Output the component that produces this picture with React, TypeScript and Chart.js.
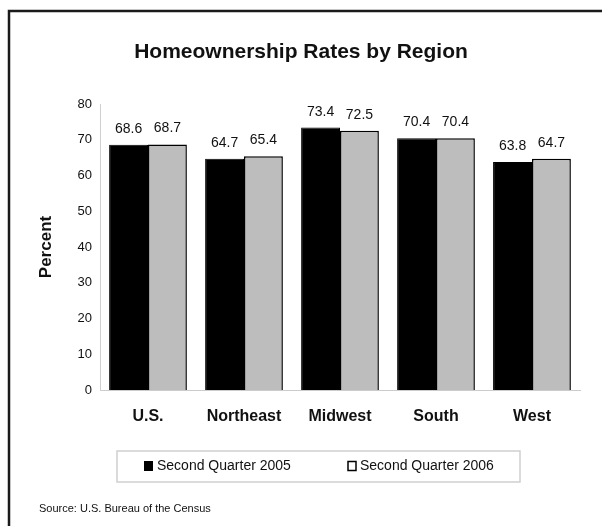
import React, { useEffect, useRef } from "react";
import { Chart, registerables } from "chart.js";

Chart.register(...registerables);

const categories = ["U.S.", "Northeast", "Midwest", "South", "West"];
const q2005 = [68.6, 64.7, 73.4, 70.4, 63.8];
const q2006 = [68.7, 65.4, 72.5, 70.4, 64.7];
const seriesLabels = ["Second Quarter 2005", "Second Quarter 2006"];
const yTicks = [0, 10, 20, 30, 40, 50, 60, 70, 80];
const titleText = "Homeownership Rates by Region";
const yTitle = "Percent";
const sourceText = "Source: U.S. Bureau of the Census";

const FONT = "'Liberation Sans', Arial, Helvetica, sans-serif";

const decorPlugin = {
  id: "decor",
  beforeDraw(chart: any) {
    const ctx = chart.ctx;
    ctx.save();
    ctx.fillStyle = "#ffffff";
    ctx.fillRect(0, 0, chart.width, chart.height);
    ctx.restore();
  },
  afterDraw(chart: any) {
    const ctx = chart.ctx;
    ctx.save();
    // frame
    ctx.strokeStyle = "#1a1a1a";
    ctx.lineWidth = 2.5;
    ctx.beginPath();
    ctx.moveTo(9, 526);
    ctx.lineTo(9, 11);
    ctx.lineTo(602, 11);
    ctx.stroke();

    // title
    ctx.fillStyle = "#111";
    ctx.font = `bold 21px ${FONT}`;
    ctx.textAlign = "center";
    ctx.textBaseline = "middle";
    ctx.fillText(titleText, 301, 52);

    // data labels
    ctx.font = `14px ${FONT}`;
    ctx.textBaseline = "alphabetic";
    chart.data.datasets.forEach((ds: any, i: number) => {
      const meta = chart.getDatasetMeta(i);
      meta.data.forEach((bar: any, j: number) => {
        ctx.fillText(Number(ds.data[j]).toFixed(1), bar.x, bar.y - 12);
      });
    });

    // legend box
    ctx.strokeStyle = "#cfcfcf";
    ctx.lineWidth = 1.5;
    ctx.strokeRect(117, 451, 403, 31);
    ctx.fillStyle = "#000";
    ctx.fillRect(144, 461, 9, 10);
    ctx.strokeStyle = "#000";
    ctx.lineWidth = 1.5;
    ctx.strokeRect(348, 461.5, 8, 9);
    ctx.font = `14px ${FONT}`;
    ctx.textAlign = "left";
    ctx.textBaseline = "middle";
    ctx.fillStyle = "#111";
    ctx.fillText(chart.data.datasets[0].label, 157, 466);
    ctx.fillText(chart.data.datasets[1].label, 360, 466);

    // source
    ctx.font = `11px ${FONT}`;
    ctx.fillText(sourceText, 39, 509);
    ctx.restore();
  },
};

export default function App() {
  const ref = useRef<HTMLCanvasElement>(null);
  useEffect(() => {
    if (!ref.current) return;
    const chart = new Chart(ref.current, {
      type: "bar",
      data: {
        labels: categories,
        datasets: [
          {
            label: seriesLabels[0],
            data: q2005,
            backgroundColor: "#000000",
            borderColor: "#000000",
            borderWidth: 1,
          },
          {
            label: seriesLabels[1],
            data: q2006,
            backgroundColor: "#bdbdbd",
            borderColor: "#000000",
            borderWidth: 1.5,
          },
        ],
      },
      options: {
        responsive: false,
        animation: false,
        devicePixelRatio: 1,
        layout: { padding: { left: 30, right: 22, top: 104, bottom: 0 } },
        datasets: { bar: { categoryPercentage: 0.81, barPercentage: 1 } },
        plugins: {
          legend: { display: false },
          title: { display: false },
          tooltip: { enabled: false },
        },
        scales: {
          x: {
            grid: { display: false, drawTicks: false },
            border: { display: true, color: "#cccccc", width: 1 },
            ticks: {
              padding: 17,
              color: "#111",
              font: { family: FONT, size: 16, weight: "bold" },
            },
            afterFit(scale: any) {
              scale.height = 136;
            },
          },
          y: {
            min: 0,
            max: 80,
            afterBuildTicks(scale: any) {
              scale.ticks = yTicks.map((v) => ({ value: v }));
            },
            grid: { display: false, drawTicks: false },
            border: { display: true, color: "#d0d0d0", width: 1 },
            ticks: {
              padding: 8,
              color: "#111",
              font: { family: FONT, size: 13 },
            },
            title: {
              display: true,
              text: yTitle,
              color: "#111",
              padding: { top: 6, bottom: 0 },
              font: { family: FONT, size: 17, weight: "bold" },
            },
            afterFit(scale: any) {
              scale.width = 70;
            },
          },
        },
      },
      plugins: [decorPlugin],
    });
    return () => chart.destroy();
  }, []);
  return (
    <div style={{ position: "absolute", left: 0, top: 0, width: 602, height: 526 }}>
      <canvas ref={ref} width={602} height={526} style={{ display: "block" }} />
    </div>
  );
}
